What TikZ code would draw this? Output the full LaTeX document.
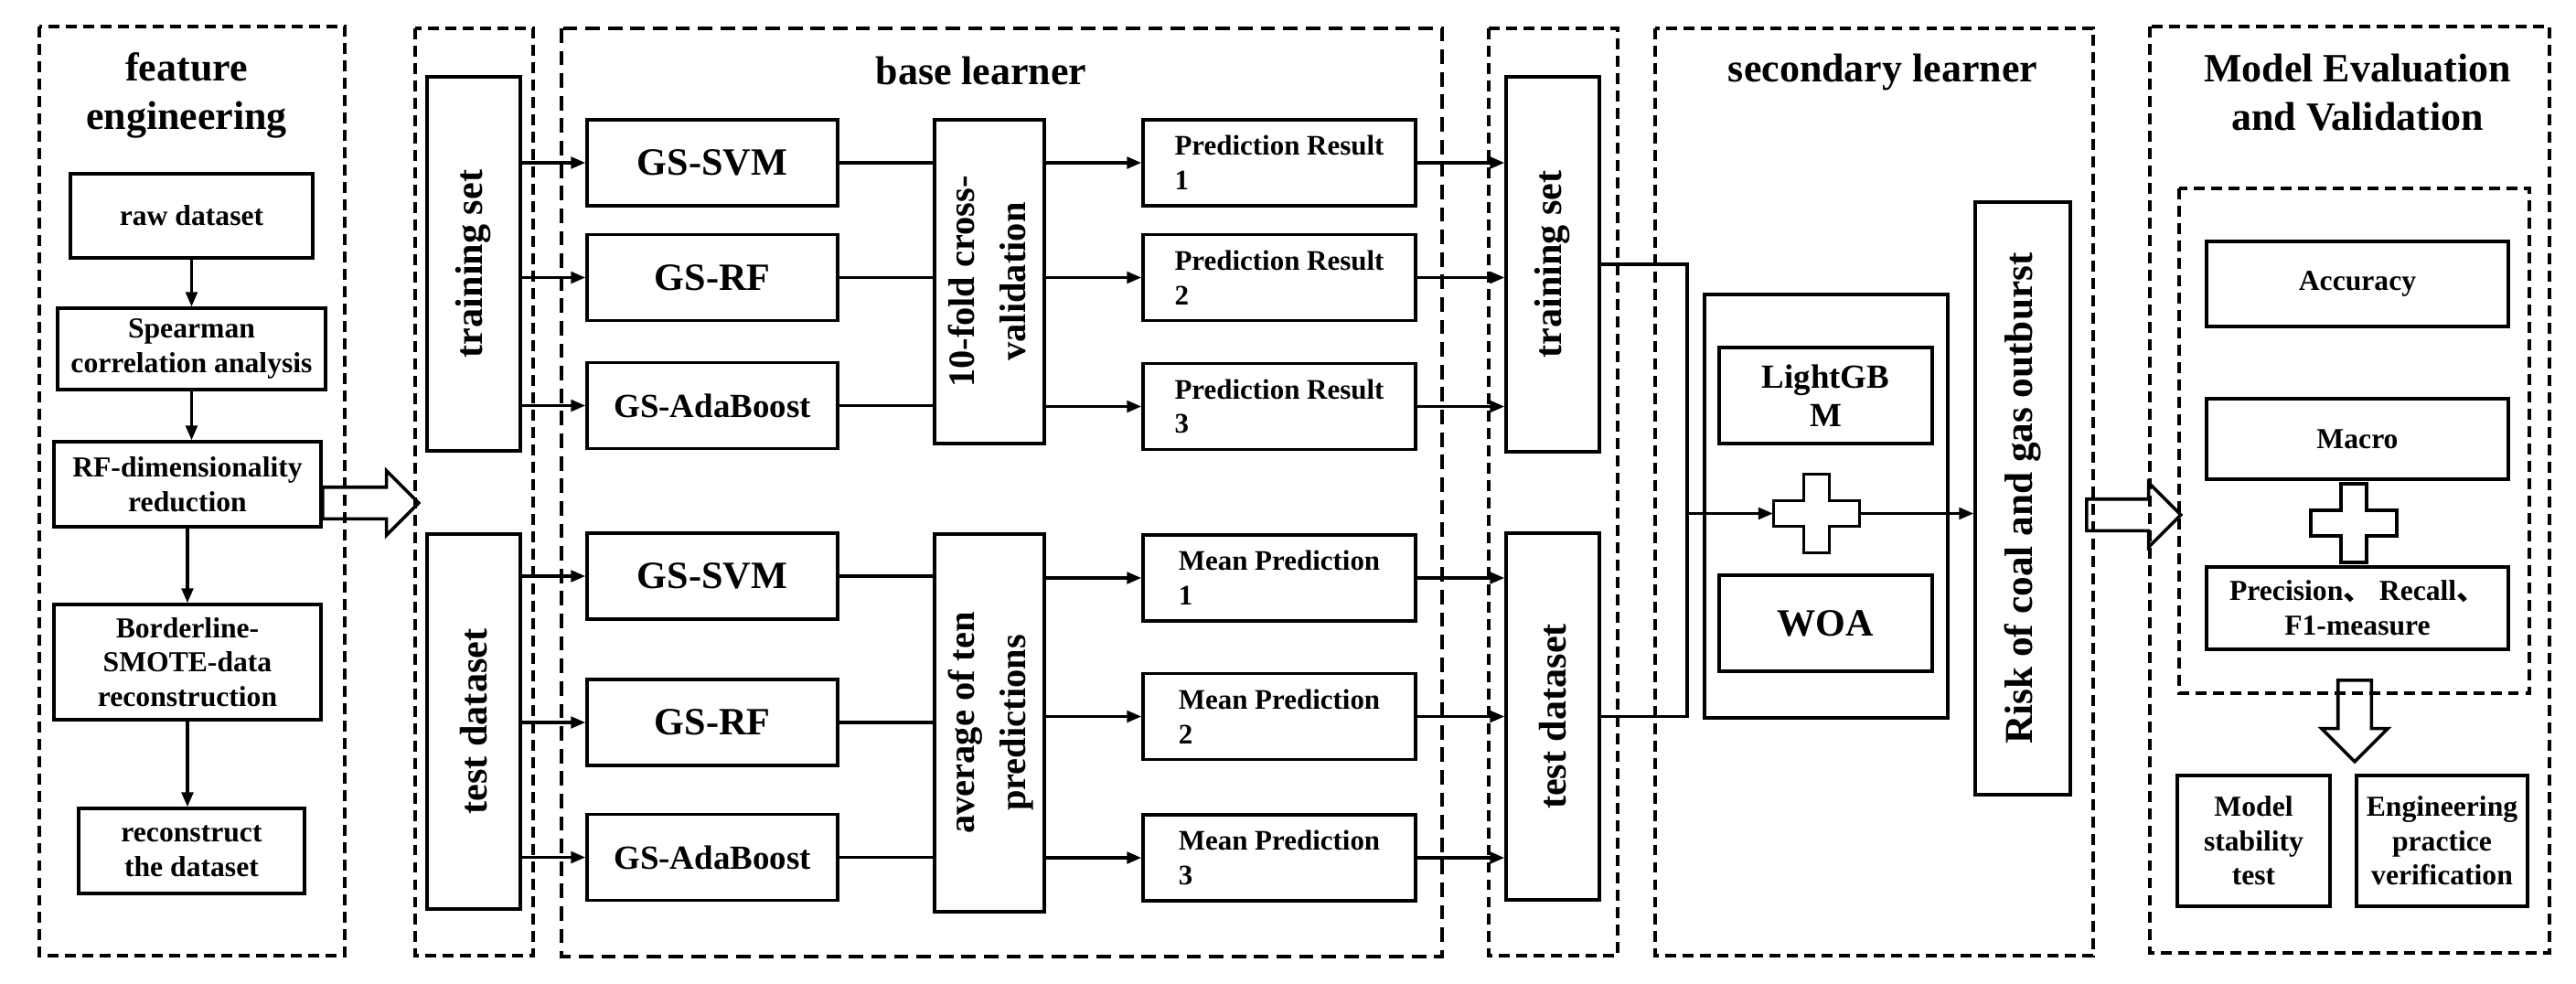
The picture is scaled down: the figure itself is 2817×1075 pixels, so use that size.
\documentclass[tikz,border=0pt]{standalone}
\usepackage{graphicx}
\usepackage{fontspec}
\setmainfont{Liberation Serif}
\newfontfamily\cjk{Noto Sans CJK SC}
\usetikzlibrary{arrows.meta,shapes.arrows}

\newcommand\fsz[2]{\fontsize{#1}{#2}\selectfont}

\tikzset{
  frame/.style={line width=1.3pt, dash pattern=on 3.4pt off 2pt},
  thinframe/.style={line width=0.9pt, dash pattern=on 4.5pt off 2.5pt},
  box/.style={draw, line width=1pt, inner sep=1pt, align=center},
  link/.style={line width=0.9pt},
  arr/.style={link, -{Triangle[length=4.5pt,width=3.6pt]}},
  hollow/.style={single arrow, draw, line width=1pt, inner sep=#1, single arrow head extend=0.18cm},
  hollow/.default=0.155cm,
  title/.style={align=center, font=\bfseries\fsz{12.5}{15}},
  small/.style={font=\bfseries\fsz{9}{10.7}},
  pred/.style={box, align=left, minimum width=2.98cm, minimum height=0.94cm, font=\bfseries\fsz{8.8}{10.7}},
  gs/.style={box, minimum width=2.74cm, minimum height=0.94cm},
  side/.style={box, minimum width=1.02cm, font=\bfseries\fsz{12}{14}},
}

\begin{document}
\begin{tikzpicture}[x=0.01cm, y=-0.01cm]
\useasboundingbox (0,0) rectangle (2817,1075);

\draw[frame] (43,29) rectangle (377,1045);
\draw[frame] (454,31) rectangle (583,1045);
\draw[thinframe] (614,31) rectangle (1577,1046);
\draw[frame] (1628,31) rectangle (1769,1045);
\draw[frame] (1810,31) rectangle (2289,1045);
\draw[frame] (2351,29) rectangle (2788,1042);
\draw[frame] (2383,206) rectangle (2766,758);

\node[title] (feTitle) at (204,104) {feature\\engineering};
\node[title] (blTitle) at (1073,77) {base learner};
\node[title] (slTitle) at (2059,79) {secondary learner};
\node[title] (evTitle) at (2578,101) {Model Evaluation\\and Validation};

\node[box, small, minimum width=2.65cm, minimum height=0.92cm] (raw) at (209.5,236) {raw dataset};
\node[box, small, minimum width=2.93cm, minimum height=0.89cm] (spear) at (209.5,381.5) {Spearman\\correlation analysis};
\node[box, small, minimum width=2.92cm, minimum height=0.93cm] (rfdim) at (205,529.5) {RF-dimensionality\\reduction};
\node[box, small, minimum width=2.92cm, minimum height=1.26cm] (border) at (205,724) {Borderline-\\SMOTE-data\\reconstruction};
\node[box, small, minimum width=2.47cm, minimum height=0.93cm] (recon) at (209.5,930.5) {reconstruct\\the dataset};
\draw[arr] (raw.south) -- (spear.north);
\draw[arr] (spear.south) -- (spear.south |- rfdim.north);
\draw[arr] (rfdim.south) -- (border.north);
\draw[arr] (border.south) -- (border.south |- recon.north);
\node[hollow, minimum height=1.05cm, anchor=tail] (bigA) at (351,550) {};

\node[side, minimum height=4.09cm] (trainA) at (518,288.5) {\rotatebox{90}{training set}};
\node[side, minimum height=4.10cm] (testA) at (518,789) {\rotatebox{90}{test dataset}};

\node[gs, font=\bfseries\fsz{12}{14}] (svmA) at (779,178) {GS-SVM};
\node[gs, font=\bfseries\fsz{12}{14}] (rfA) at (779,303.5) {GS-RF};
\node[gs, font=\bfseries\fsz{10.5}{12}] (adaA) at (779,443.5) {GS-AdaBoost};
\node[gs, font=\bfseries\fsz{12}{14}] (svmB) at (779,630) {GS-SVM};
\node[gs, font=\bfseries\fsz{12}{14}] (rfB) at (779,790) {GS-RF};
\node[gs, font=\bfseries\fsz{10.5}{12}] (adaB) at (779,937.5) {GS-AdaBoost};

\node[box, minimum width=1.16cm, minimum height=3.54cm, font=\bfseries\fsz{11.5}{16}] (cv) at (1082,308)
  {\rotatebox{90}{\begin{tabular}{@{}c@{}}10-fold cross-\\validation\end{tabular}}};
\node[box, minimum width=1.16cm, minimum height=4.13cm, font=\bfseries\fsz{11.5}{16}] (avg) at (1082,790.5)
  {\rotatebox{90}{\begin{tabular}{@{}c@{}}average of ten\\predictions\end{tabular}}};

\node[pred] (predA1) at (1399,178) {Prediction Result\\1};
\node[pred] (predA2) at (1399,303.5) {Prediction Result\\2};
\node[pred] (predA3) at (1399,444.5) {Prediction Result\\3};
\node[pred] (meanB1) at (1399,632) {Mean Prediction\\1};
\node[pred] (meanB2) at (1399,783.5) {Mean Prediction\\2};
\node[pred] (meanB3) at (1399,938) {Mean Prediction\\3};

\node[side, minimum height=4.10cm] (trainB) at (1698,289) {\rotatebox{90}{training set}};
\node[side, minimum height=4.01cm] (testB) at (1698,783.5) {\rotatebox{90}{test dataset}};

\foreach \m in {svmA,rfA,adaA}
  \draw[arr] (\m.west -| trainA.east) -- (\m.west);
\foreach \m in {svmB,rfB,adaB}
  \draw[arr] (\m.west -| testA.east) -- (\m.west);
\foreach \m/\p in {svmA/predA1,rfA/predA2,adaA/predA3} {
  \draw[link] (\m.east) -- (\m.east -| cv.west);
  \draw[arr] (\p.west -| cv.east) -- (\p.west);
  \draw[arr] (\p.east) -- (\p.east -| trainB.west);
}
\foreach \m/\p in {svmB/meanB1,rfB/meanB2,adaB/meanB3} {
  \draw[link] (\m.east) -- (\m.east -| avg.west);
  \draw[arr] (\p.west -| avg.east) -- (\p.west);
  \draw[arr] (\p.east) -- (\p.east -| testB.west);
}

\node[draw, line width=1pt, minimum width=2.66cm, minimum height=4.63cm] (stack) at (1997,553.5) {};
\node[box, minimum width=2.33cm, minimum height=1.05cm, font=\bfseries\fsz{10.5}{12}] (lgbm) at (1996.5,432.5) {LightGB\\M};
\node[box, minimum width=2.33cm, minimum height=1.05cm, font=\bfseries\fsz{12}{14}] (woa) at (1996.5,681.5) {WOA};
\node[inner sep=0pt, minimum width=0.94cm, minimum height=0.28cm] (plusA) at (1986.5,561.5) {};
\node[box, minimum width=1.04cm, minimum height=6.48cm, font=\bfseries\fsz{12.3}{14}] (risk) at (2212,545)
  {\rotatebox{90}{Risk of coal and gas outburst}};
\coordinate (jn) at (1845,561.5);
\draw[link] (trainB.east) -| (jn) |- (testB.east);
\draw[arr] (jn) -- (plusA.west);
\draw[arr] (plusA.east) -- (plusA.east -| risk.west);
\node[hollow, minimum height=1.03cm, anchor=tail] (bigB) at (2280,563) {};

\node[box, small, minimum width=3.30cm, minimum height=0.93cm] (acc) at (2578,310.5) {Accuracy};
\node[box, small, minimum width=3.30cm, minimum height=0.88cm] (macro) at (2578,480) {Macro};
\node[inner sep=0pt, minimum width=0.94cm, minimum height=0.28cm] (plusB) at (2574,572) {};
\node[box, small, minimum width=3.30cm, minimum height=0.90cm] (prf) at (2578,665) {Precision{\cjk 、} Recall{\cjk 、}\\F1-measure};
\node[hollow=0.165cm, rotate=-90, minimum height=0.89cm, anchor=tail] (downArr) at (2575,742) {};
\node[box, small, minimum width=1.67cm, minimum height=1.43cm] (stab) at (2464.5,919.5) {Model\\stability\\test};
\node[box, small, minimum width=1.87cm, minimum height=1.43cm] (engp) at (2670.5,919.5) {Engineering\\practice\\verification};

\foreach \p in {plusA,plusB}
  \draw[line width=1pt, shift={(\p.center)}] (-47,-14) -- (-14,-14) -- (-14,-43) -- (14,-43) -- (14,-14) -- (47,-14)
    -- (47,14) -- (14,14) -- (14,43) -- (-14,43) -- (-14,14) -- (-47,14) -- cycle;
\end{tikzpicture}
\end{document}
